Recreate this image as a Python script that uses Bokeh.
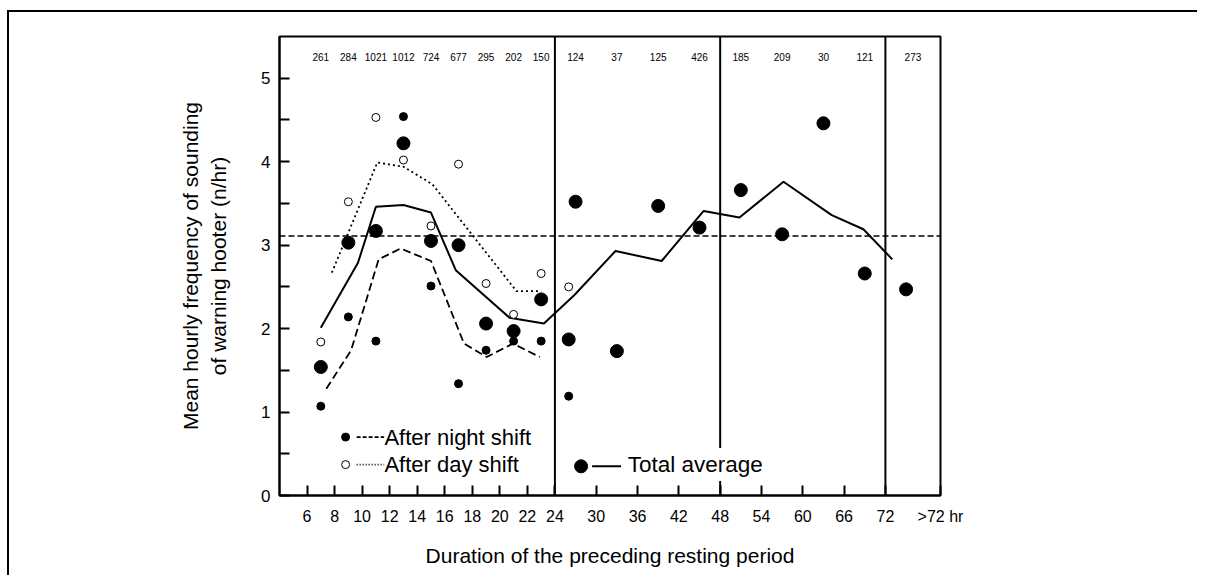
from bokeh.plotting import figure
from bokeh.models import Span, Label, FixedTicker, Range1d
from bokeh.core.properties import value
from bokeh.embed import file_html
from bokeh.resources import INLINE

FONT = "Liberation Sans"

# ---------------- data ----------------
# x positions are hours of preceding rest (">72" plotted at 76)
bin_hours = [7, 9, 11, 13, 15, 17, 19, 21, 23, 27, 33, 39, 45, 51, 57, 63, 69, 76]
bin_counts = ["261", "284", "1021", "1012", "724", "677", "295", "202", "150",
              "124", "37", "125", "426", "185", "209", "30", "121", "273"]

total_hours = [7, 9, 11, 13, 15, 17, 19, 21, 23, 26, 27, 33, 39, 45, 51, 57, 63, 69, 75]
total_vals = [1.54, 3.03, 3.17, 4.22, 3.05, 3.00, 2.06, 1.97, 2.35, 1.87,
              3.52, 1.73, 3.47, 3.21, 3.66, 3.13, 4.46, 2.66, 2.47]

shift_hours = [7, 9, 11, 13, 15, 17, 19, 21, 23, 26]
night_vals = [1.07, 2.14, 1.85, 4.54, 2.51, 1.34, 1.74, 1.85, 1.85, 1.19]
day_vals = [1.84, 3.52, 4.53, 4.02, 3.23, 3.97, 2.54, 2.17, 2.66, 2.50]

total_line_hours = [7.0, 9.7, 11.0, 13.0, 15.0, 16.8, 20.7, 23.2, 26.8, 32.8,
                    39.5, 45.6, 50.8, 57.2, 64.2, 68.8, 73.0]
total_line_vals = [2.01, 2.79, 3.46, 3.48, 3.39, 2.70, 2.13, 2.06, 2.40, 2.93,
                   2.81, 3.41, 3.33, 3.76, 3.36, 3.19, 2.83]

night_line_hours = [7.4, 9.2, 11.2, 12.8, 15.0, 17.4, 19.05, 20.95, 22.9]
night_line_vals = [1.28, 1.74, 2.83, 2.96, 2.81, 1.82, 1.66, 1.82, 1.66]

day_line_hours = [7.8, 11.1, 13.0, 15.1, 21.2, 23.0]
day_line_vals = [2.67, 3.99, 3.94, 3.73, 2.45, 2.45]

overall_mean = 3.11

x_tick_hours = [6, 8, 10, 12, 14, 16, 18, 20, 22, 24, 30, 36, 42, 48, 54, 60, 66, 72, 80]
x_tick_labels = ["6", "8", "10", "12", "14", "16", "18", "20", "22", "24",
                 "30", "36", "42", "48", "54", "60", "66", "72", ">72 hr"]
divider_hours = [24, 48, 72]
y_ticks = [0, 1, 2, 3, 4, 5]
y_minor = [0.5, 1.5, 2.5, 3.5, 4.5]


def pos(h):
    """Piecewise hour axis: 2-h steps up to 24 h, compressed 6-h steps after."""
    return h if h <= 24 else 24 + (h - 24) / 2.0


def P(hs):
    return [pos(h) for h in hs]


# ---------------- figure ----------------
p = figure(width=1190, height=565, x_range=Range1d(4, 52), y_range=Range1d(0, 5.5),
           output_backend="svg", toolbar_location=None,
           min_border_left=270, min_border_right=259,
           min_border_top=24, min_border_bottom=82)
p.styles = {"margin-left": "9px", "margin-top": "12px",
            "box-shadow": "-2px -2px 0 0 black"}

p.xgrid.visible = False
p.ygrid.visible = False
p.outline_line_color = "black"
p.outline_line_width = 2
p.background_fill_color = "white"
p.border_fill_color = "white"

xt = [int(round(pos(h))) for h in x_tick_hours]
p.xaxis.ticker = FixedTicker(ticks=xt)
p.xaxis.major_label_overrides = {t: l for t, l in zip(xt, x_tick_labels)}
p.yaxis.ticker = FixedTicker(ticks=y_ticks, minor_ticks=y_minor)

for ax in (p.xaxis, p.yaxis):
    ax.axis_line_width = 2
    ax.axis_line_color = "black"
    ax.major_tick_line_width = 2
    ax.major_tick_line_color = "black"
    ax.major_tick_in = 10
    ax.major_tick_out = 0
    ax.major_label_text_font = FONT
    ax.major_label_text_font_size = "16px"
    ax.major_label_text_color = "black"
    ax.axis_label_text_font = FONT
    ax.axis_label_text_font_size = "21px"
    ax.axis_label_text_font_style = "normal"
    ax.axis_label_text_color = "black"

p.xaxis.minor_tick_line_color = None
p.xaxis.major_label_standoff = 12
p.xaxis.axis_label = "Duration of the preceding resting period"
p.xaxis.axis_label_standoff = 16

p.yaxis.minor_tick_line_width = 2
p.yaxis.minor_tick_line_color = "black"
p.yaxis.minor_tick_in = 10
p.yaxis.minor_tick_out = 0
p.yaxis.major_label_text_font_size = "17px"
p.yaxis.major_label_standoff = 9
p.yaxis.axis_label = "Mean hourly frequency of sounding\nof warning hooter (n/hr)"
p.yaxis.axis_label_standoff = 28

# ---------------- lines ----------------
p.line(P(total_line_hours), total_line_vals, line_color="black", line_width=2)
p.line(P(night_line_hours), night_line_vals, line_color="black", line_width=1.8,
       line_dash="8 4")
p.line(P(day_line_hours), day_line_vals, line_color="black", line_width=1.8,
       line_dash="2 3")

# ---------------- points ----------------
p.scatter(P(total_hours), total_vals, size=13, fill_color="black", line_color="black")
p.scatter(P(shift_hours), night_vals, size=8, fill_color="black", line_color="black")
p.scatter(P(shift_hours), day_vals, size=8, fill_color="white", line_color="black",
          line_width=1)

# bin counts along the top
p.text(P(bin_hours), [5.25] * len(bin_hours), text=bin_counts, text_align="center",
       text_baseline="middle", text_font=value(FONT), text_font_size="10px",
       text_color="black")

# ---------------- reference lines ----------------
p.add_layout(Span(location=overall_mean, dimension="width", line_color="black",
                  line_width=1.5, line_dash="6 3"))
for h in divider_hours:
    p.add_layout(Span(location=pos(h), dimension="height", line_color="black",
                      line_width=2))

# ---------------- legend ----------------
p.scatter([8.8], [0.70], size=8, fill_color="black", line_color="black")
p.segment([9.6], [0.70], [11.6], [0.70], line_color="black", line_width=1.8,
          line_dash="4 2")
p.text([11.62], [0.70], text=["After night shift"], text_baseline="middle",
       text_font=value(FONT), text_font_size="22px", text_color="black")

p.scatter([8.8], [0.37], size=8, fill_color="white", line_color="black", line_width=1)
p.segment([9.6], [0.37], [11.6], [0.37], line_color="black", line_width=1.8,
          line_dash="1 2")
p.text([11.62], [0.37], text=["After day shift"], text_baseline="middle",
       text_font=value(FONT), text_font_size="22px", text_color="black")

p.scatter([25.9], [0.35], size=13, fill_color="black", line_color="black")
p.segment([26.7], [0.35], [28.8], [0.35], line_color="black", line_width=2)
p.add_layout(Label(x=29.0, y=0.37, text="Total average", text_baseline="middle",
                   text_font=FONT, text_font_size="22.5px", text_color="black",
                   background_fill_color="white", padding=4))

open("out.html", "w").write(file_html(p, INLINE))
